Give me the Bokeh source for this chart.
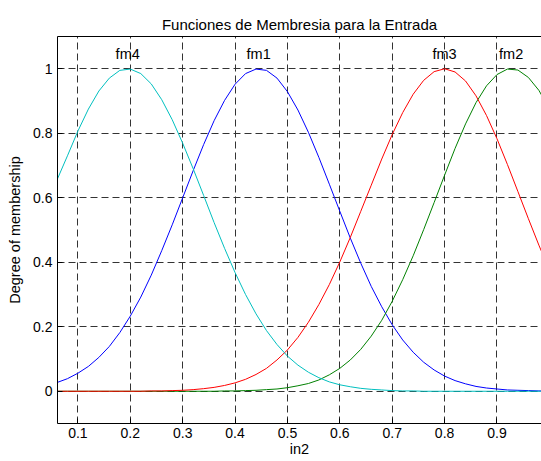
from bokeh.plotting import figure
from bokeh.models import Range1d, FixedTicker, LinearAxis, ColumnDataSource
from bokeh.core.properties import value
from bokeh.embed import file_html
from bokeh.resources import INLINE

# Input universe samples for in2
x_in2 = [0.06, 0.08, 0.10, 0.12, 0.14, 0.16, 0.18, 0.20, 0.22, 0.24,
         0.26, 0.28, 0.30, 0.32, 0.34, 0.36, 0.38, 0.40, 0.42, 0.44,
         0.46, 0.48, 0.50, 0.52, 0.54, 0.56, 0.58, 0.60, 0.62, 0.64,
         0.66, 0.68, 0.70, 0.72, 0.74, 0.76, 0.78, 0.80, 0.82, 0.84,
         0.86, 0.88, 0.90, 0.92, 0.94, 0.96, 0.98, 1.00]

# Degree of membership of each fuzzy set
fm1 = [0.027, 0.039, 0.056, 0.077, 0.105, 0.139, 0.182, 0.233, 0.292, 0.360,
       0.436, 0.516, 0.600, 0.684, 0.765, 0.839, 0.902, 0.952, 0.985, 0.999,
       0.995, 0.971, 0.929, 0.872, 0.803, 0.725, 0.642, 0.558, 0.475, 0.397,
       0.325, 0.262, 0.206, 0.159, 0.121, 0.090, 0.066, 0.047, 0.033, 0.023,
       0.015, 0.010, 0.007, 0.004, 0.003, 0.002, 0.001, 0.001]
fm2 = [0, 0, 0, 0, 0, 0, 0, 0, 0, 0,
       0, 0, 0, 0, 0, 0, 0.001, 0.001, 0.002, 0.003,
       0.005, 0.007, 0.011, 0.017, 0.024, 0.035, 0.051, 0.071, 0.097, 0.130,
       0.171, 0.220, 0.279, 0.346, 0.420, 0.501, 0.585, 0.670, 0.753, 0.829,
       0.895, 0.947, 0.982, 0.999, 0.996, 0.973, 0.933, 0.876]
fm3 = [0, 0, 0, 0, 0, 0, 0, 0, 0, 0.001,
       0.001, 0.002, 0.003, 0.005, 0.008, 0.012, 0.018, 0.026, 0.037, 0.052,
       0.071, 0.097, 0.128, 0.167, 0.214, 0.269, 0.331, 0.401, 0.477, 0.558,
       0.639, 0.720, 0.796, 0.864, 0.921, 0.964, 0.991, 1.000, 0.990, 0.962,
       0.916, 0.855, 0.783, 0.703, 0.619, 0.535, 0.453, 0.376]
fm4 = [0.655, 0.730, 0.807, 0.875, 0.931, 0.971, 0.995, 0.999, 0.985, 0.953,
       0.904, 0.842, 0.769, 0.690, 0.607, 0.523, 0.443, 0.368, 0.300, 0.240,
       0.188, 0.145, 0.109, 0.081, 0.059, 0.042, 0.029, 0.020, 0.014, 0.009,
       0.006, 0.004, 0.002, 0.001, 0.001, 0, 0, 0, 0, 0,
       0, 0, 0, 0, 0, 0, 0, 0]

# Set names, their centres (label positions) and line colours
mf_names = ["fm1", "fm2", "fm3", "fm4"]
mf_centers = [0.445, 0.927, 0.800, 0.195]
mf_colors = ["#0000FF", "#008000", "#FF0000", "#00BFBF"]

x_ticks = [0.1, 0.2, 0.3, 0.4, 0.5, 0.6, 0.7, 0.8, 0.9]
x_tick_labels = ["0.1", "0.2", "0.3", "0.4", "0.5", "0.6", "0.7", "0.8", "0.9"]
y_ticks = [0, 0.2, 0.4, 0.6, 0.8, 1]
y_tick_labels = ["0", "0.2", "0.4", "0.6", "0.8", "1"]

FONT = "Liberation Sans"

p = figure(width=541, height=461,
           x_range=Range1d(0.061, 0.985), y_range=Range1d(-0.1, 1.1),
           output_backend="svg", toolbar_location=None,
           min_border_left=57, min_border_right=0,
           min_border_top=36, min_border_bottom=38,
           title="Funciones de Membresia para la Entrada")
p.outline_line_color = None
p.background_fill_color = "white"
p.border_fill_color = "white"

p.title.align = "center"
p.title.offset = 4
p.title.text_font = FONT
p.title.text_font_size = "15px"
p.title.text_font_style = "normal"
p.title.text_color = "black"
p.title.standoff = 8

xt = FixedTicker(ticks=x_ticks)
yt = FixedTicker(ticks=y_ticks)

xa = p.xaxis[0]
ya = p.yaxis[0]
xa.ticker = xt
ya.ticker = yt
xa.major_label_overrides = dict(zip(x_ticks, x_tick_labels))
ya.major_label_overrides = dict(zip(y_ticks, y_tick_labels))
xa.axis_label = "in2"
ya.axis_label = "Degree of membership"
for ax in (xa, ya):
    ax.axis_line_color = "black"
    ax.axis_line_width = 1
    ax.major_tick_in = 5
    ax.major_tick_out = 0
    ax.minor_tick_in = 0
    ax.minor_tick_out = 0
    ax.major_tick_line_color = "black"
    ax.major_label_text_font = FONT
    ax.major_label_text_font_size = "14px"
    ax.major_label_text_color = "black"
    ax.axis_label_text_font = FONT
    ax.axis_label_text_font_size = "14.5px"
    ax.axis_label_text_font_style = "normal"
    ax.axis_label_text_color = "black"
xa.major_label_standoff = 4
xa.axis_label_standoff = 0
ya.major_label_standoff = 5
ya.axis_label_standoff = 7

# top edge of the box (line only)
top = LinearAxis(ticker=FixedTicker(ticks=[]), axis_line_color="black",
                 major_tick_in=0, major_tick_out=0,
                 minor_tick_in=0, minor_tick_out=0, major_label_standoff=0)
p.add_layout(top, "above")

# dashed grid
for g in (p.xgrid[0], p.ygrid[0]):
    g.grid_line_color = "#333333"
    g.grid_line_dash = "7 4"
    g.grid_line_width = 1
p.xgrid[0].ticker = xt
p.ygrid[0].ticker = yt

src = ColumnDataSource(dict(x=x_in2, fm1=fm1, fm2=fm2, fm3=fm3, fm4=fm4))
for name, color in zip(mf_names, mf_colors):
    p.line("x", name, source=src, line_color=color, line_width=1)

label_y = [1.045] * len(mf_names)
p.text(x=mf_centers, y=label_y, text=mf_names,
       text_font=value(FONT), text_font_size="14.5px", text_color="black",
       text_align="center", text_baseline="middle")

open("out.html", "w").write(file_html(p, INLINE))
